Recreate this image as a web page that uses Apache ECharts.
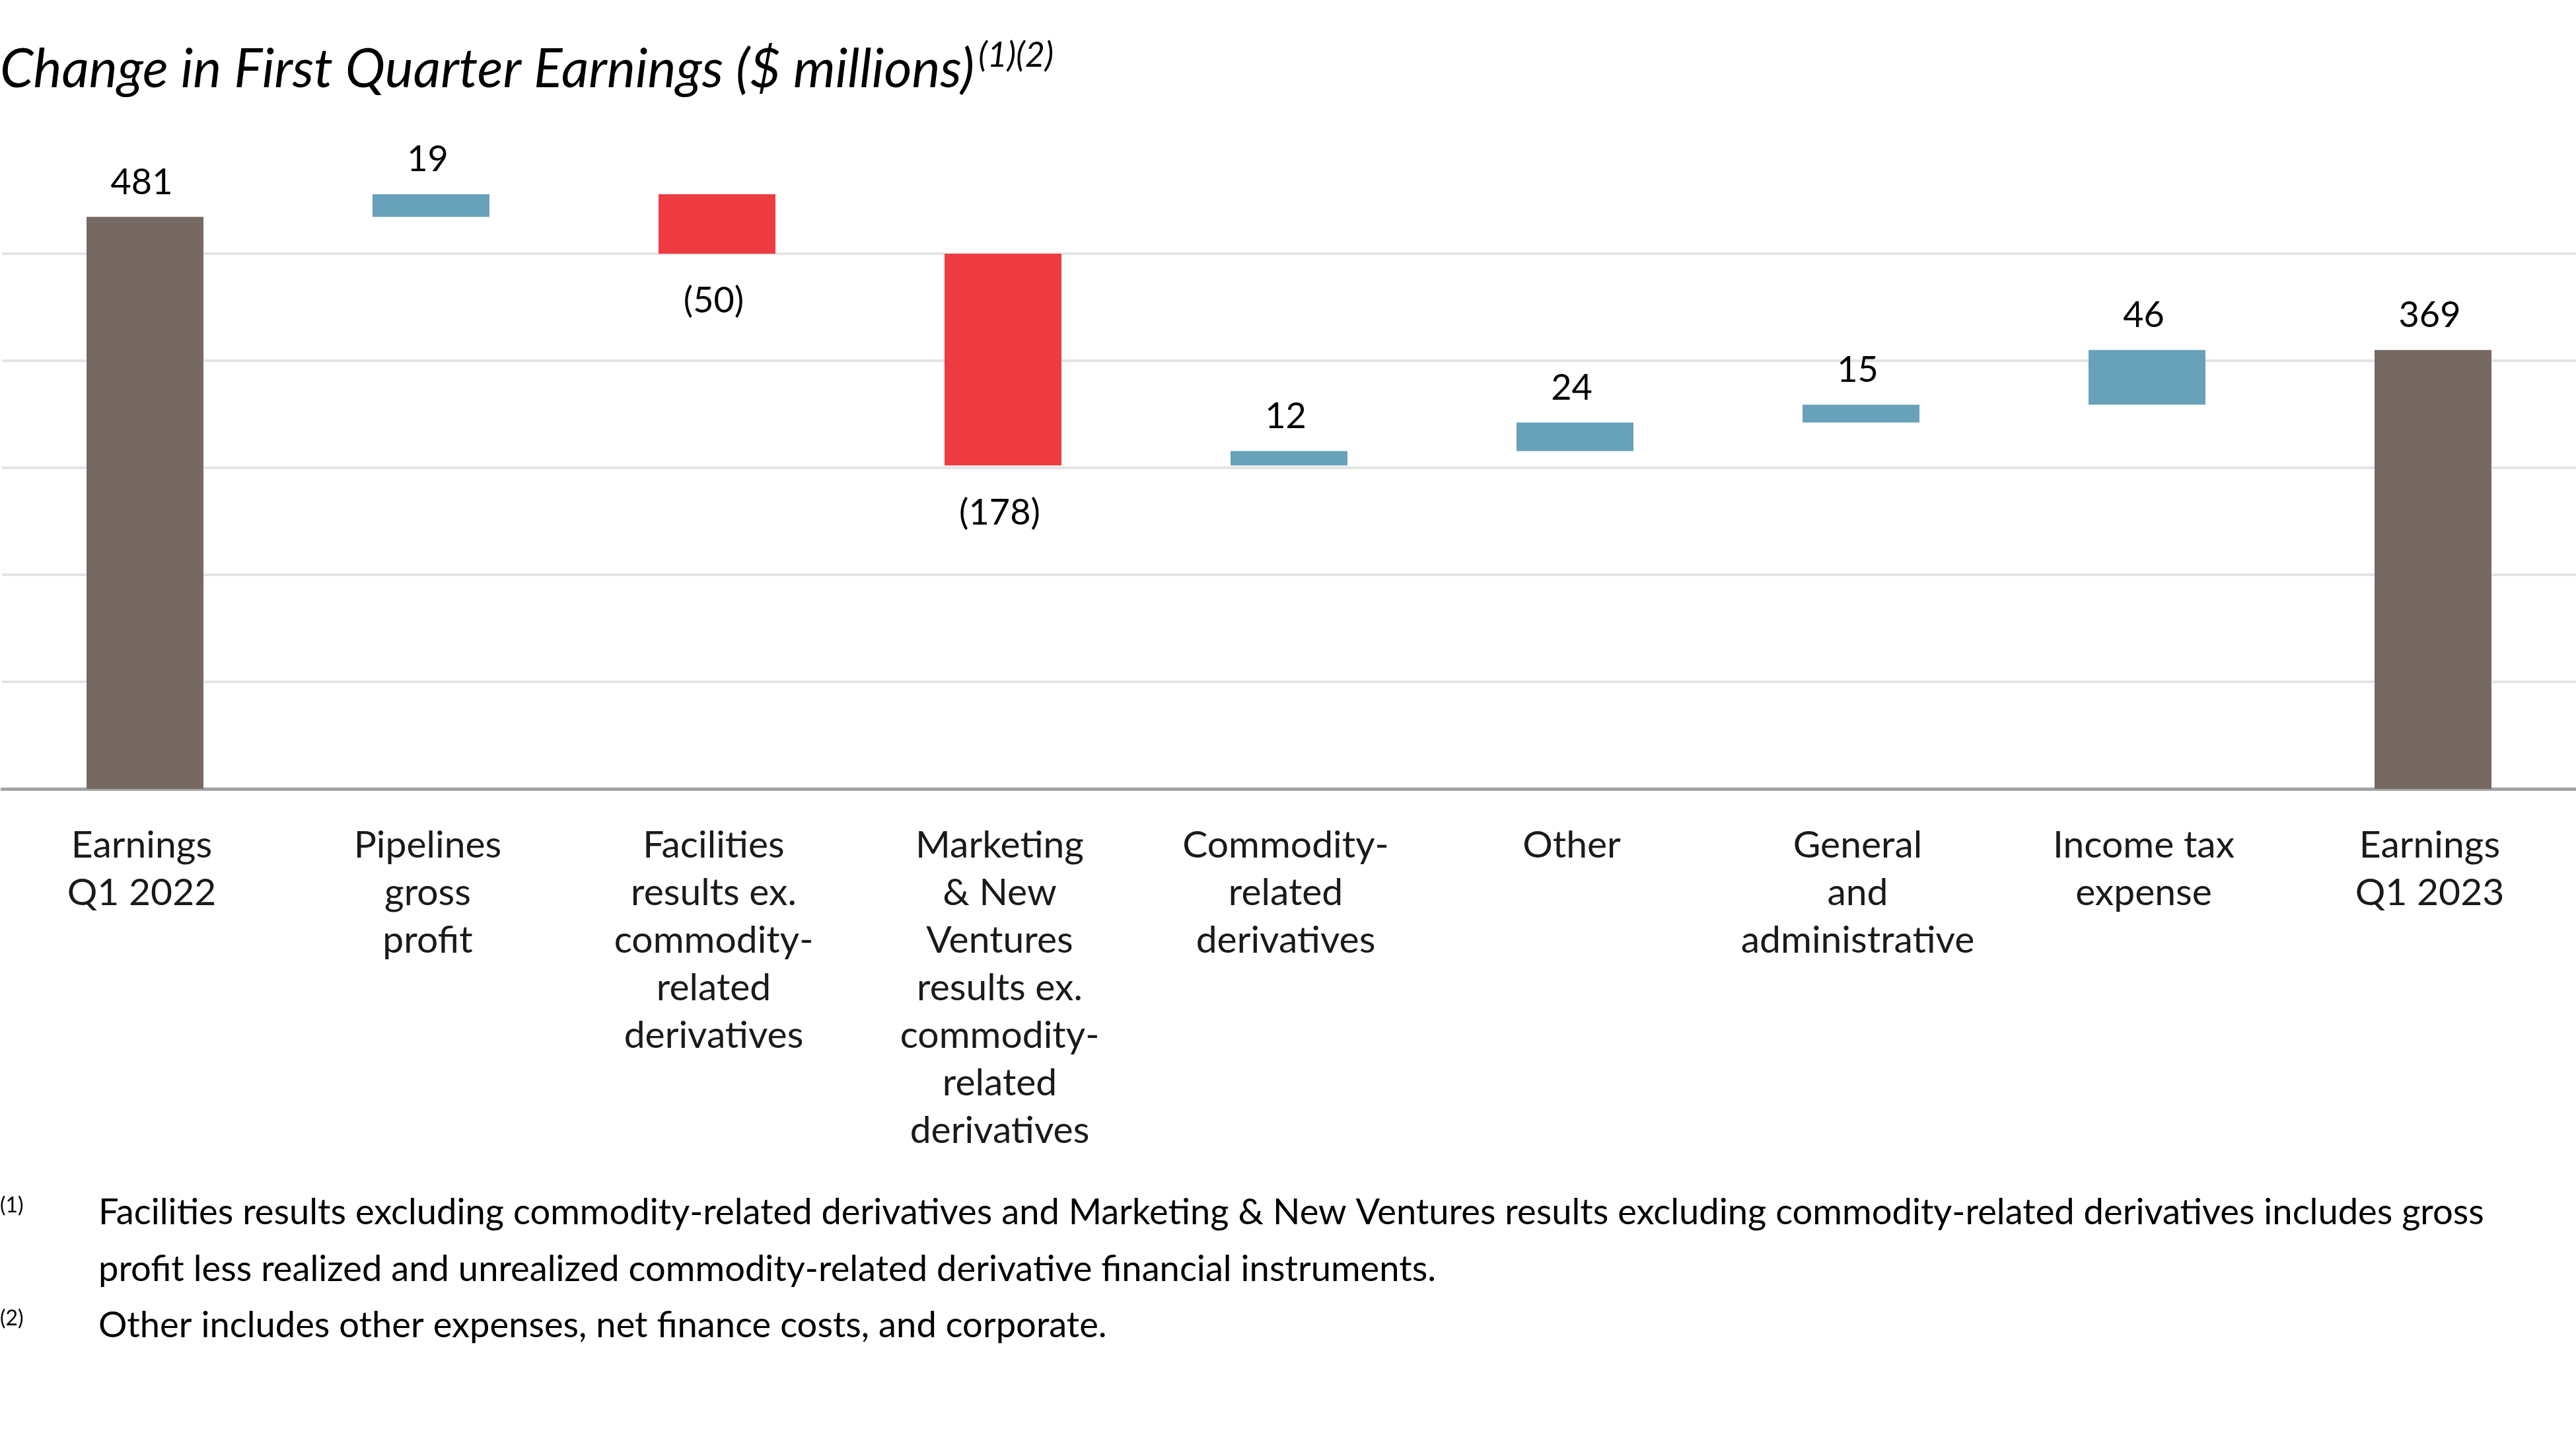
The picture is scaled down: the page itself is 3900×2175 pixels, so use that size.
<!DOCTYPE html>
<html>
<head>
<meta charset="utf-8">
<script src="https://cdn.jsdelivr.net/npm/echarts@6/dist/echarts.min.js"></script>
<style>
html,body{margin:0;padding:0;background:#fff;}
#chart{width:3900px;height:2175px;}
</style>
</head>
<body>
<div id="chart"></div>
<script>
// ---- data ----
const categories = [
  'Earnings\nQ1 2022',
  'Pipelines\ngross\nprofit',
  'Facilities\nresults ex.\ncommodity-\nrelated\nderivatives',
  'Marketing\n& New\nVentures\nresults ex.\ncommodity-\nrelated\nderivatives',
  'Commodity-\nrelated\nderivatives',
  'Other',
  'General\nand\nadministrative',
  'Income tax\nexpense',
  'Earnings\nQ1 2023'
];
const changes = [481, 19, -50, -178, 12, 24, 15, 46, 369];
const isTotal = [true, false, false, false, false, false, false, false, true];
const yTicks = { min: 0, max: 540, step: 90 };
const titleText = 'Change in First Quarter Earnings ($ millions)';
const titleNotes = '(1)(2)';
const footnotes = [
  { mark: '(1)', lines: [
    'Facilities results excluding commodity-related derivatives and Marketing & New Ventures results excluding commodity-related derivatives includes gross',
    'profit less realized and unrealized commodity-related derivative financial instruments.'
  ]},
  { mark: '(2)', lines: ['Other includes other expenses, net finance costs, and corporate.'] }
];

// ---- build waterfall from data ----
const COLORS = { total: '#766963', up: '#68A1BA', down: '#EE3B42' };
const baseData = [], barData = [];
let running = 0;
changes.forEach((v, i) => {
  if (isTotal[i]) {
    baseData.push(0);
    barData.push({ value: v, itemStyle: { color: COLORS.total },
      label: { position: 'top', distance: 25, formatter: String(v) } });
    running = v;
  } else if (v >= 0) {
    baseData.push(running);
    barData.push({ value: v, itemStyle: { color: COLORS.up },
      label: { position: 'top', distance: 25, formatter: String(v) } });
    running += v;
  } else {
    running += v;
    baseData.push(running);
    barData.push({ value: -v, itemStyle: { color: COLORS.down },
      label: { position: 'bottom', distance: 45, formatter: '(' + (-v) + ')' } });
  }
});

const FONT = 'Lato';
const graphics = [];
graphics.push({
  type: 'text', x: 0, y: 106,
  style: {
    text: '{t|' + titleText + '}{g|}{s|' + titleNotes + '}',
    verticalAlign: 'middle', align: 'left',
    rich: {
      t: { fontFamily: FONT, fontStyle: 'italic', fontSize: 81, fill: '#000', lineHeight: 96 },
      g: { width: 6, lineHeight: 96 },
      s: { fontFamily: FONT, fontStyle: 'italic', fontSize: 52, fill: '#000', verticalAlign: 'top', lineHeight: 96 }
    }
  }
});
const fnY = [1835, 2006];
footnotes.forEach((f, k) => {
  graphics.push({
    type: 'text', x: 0, y: fnY[k] - 10,
    style: { text: f.mark, fontFamily: FONT, fontSize: 32, fill: '#000', verticalAlign: 'middle' }
  });
  f.lines.forEach((ln, j) => {
    graphics.push({
      type: 'text', x: 149, y: fnY[k] + j * 86,
      style: { text: ln, fontFamily: FONT, fontSize: 54.3, fill: '#000', verticalAlign: 'middle' }
    });
  });
});

const chart = echarts.init(document.getElementById('chart'), null, { renderer: 'canvas' });
chart.setOption({
  animation: false,
  backgroundColor: '#fff',
  grid: { left: 3, right: 0, top: 222, bottom: 981 },
  xAxis: {
    type: 'category',
    data: categories,
    axisTick: { show: false },
    axisLine: { lineStyle: { color: '#A3A3A3', width: 5 } },
    axisLabel: {
      interval: 0, fontFamily: FONT, fontSize: 57, lineHeight: 72,
      margin: 50, color: '#1a1a1a', align: 'center', padding: [0, 10, 0, 0]
    }
  },
  yAxis: {
    type: 'value',
    min: yTicks.min, max: yTicks.max, interval: yTicks.step,
    axisLabel: { show: false },
    axisLine: { show: false },
    axisTick: { show: false },
    splitLine: { show: true, showMaxLine: false, showMinLine: false,
      lineStyle: { color: '#E4E4E4', width: 4 } }
  },
  series: [
    {
      type: 'bar', stack: 'w', data: baseData, silent: true,
      itemStyle: { color: 'rgba(0,0,0,0)' }, barWidth: 177
    },
    {
      type: 'bar', stack: 'w', data: barData, barWidth: 177,
      label: { show: true, fontFamily: FONT, fontSize: 54, lineHeight: 54, color: '#000', offset: [-5, 0] }
    }
  ],
  graphic: graphics
});
</script>
</body>
</html>
